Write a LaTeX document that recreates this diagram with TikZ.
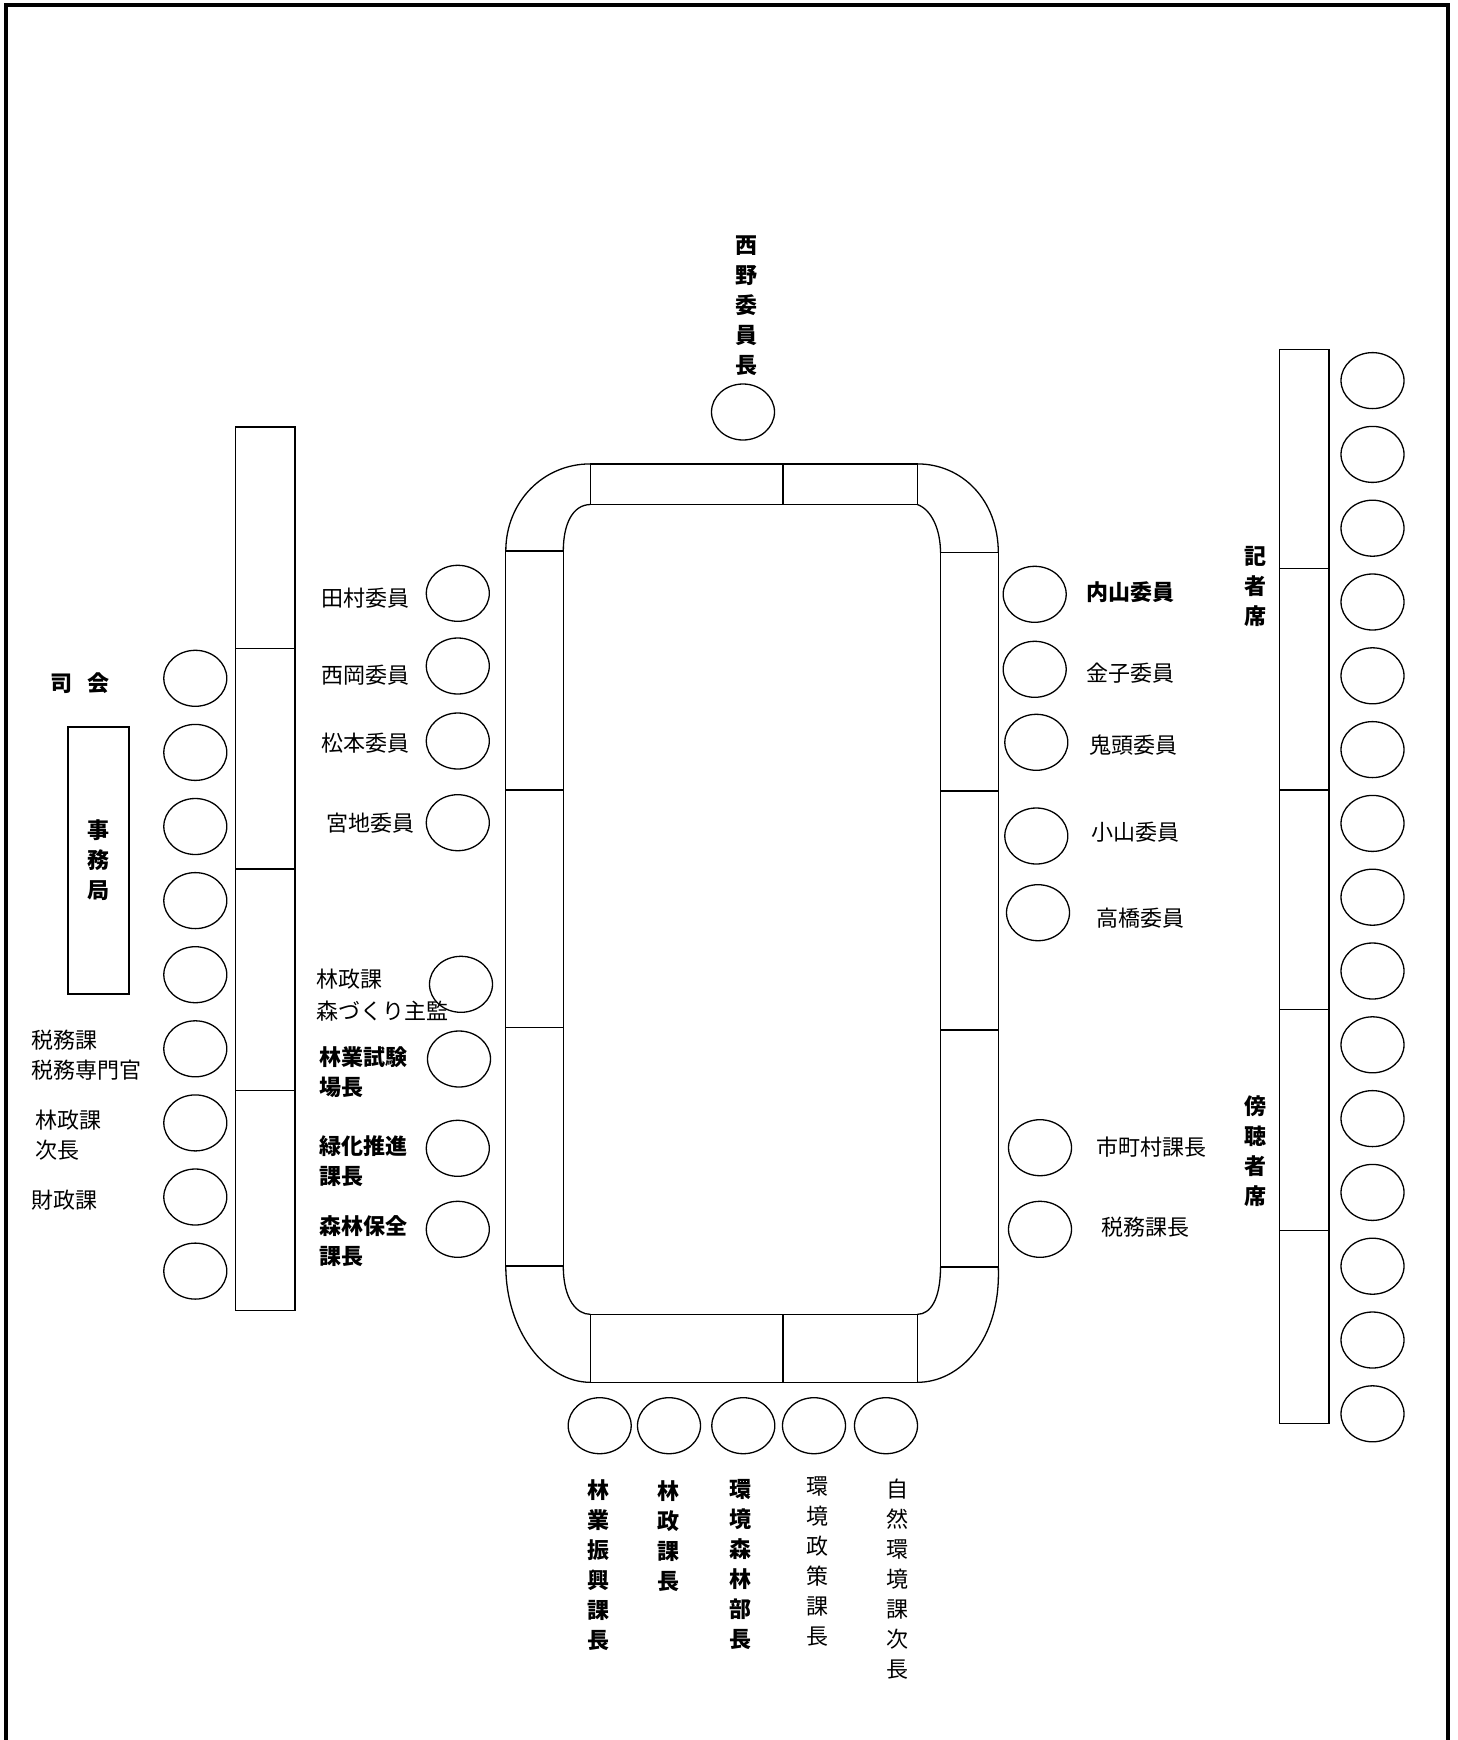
\documentclass[tikz,border=0pt]{standalone}
\usepackage{fontspec}
\setmainfont{Noto Sans CJK JP}
\usetikzlibrary{shapes.geometric}
\tikzset{
  seat/.style  = {ellipse, draw, line width=1.3pt, minimum width=63pt,
                  minimum height=56pt, inner sep=0pt},
  tbl/.style   = {draw, line width=1.3pt},
  lbl/.style   = {inner sep=0pt, anchor=west, align=left,
                  font=\fontsize{22}{30}\selectfont},
  blbl/.style  = {lbl, font=\fontsize{22}{30}\selectfont\bfseries},
  vlbl/.style  = {inner sep=0pt, align=center,
                  font=\fontsize{22}{30}\selectfont\bfseries},
  vrlbl/.style = {vlbl, font=\fontsize{22}{30}\selectfont},
}
\begin{document}
\begin{tikzpicture}[x=1pt, y=-1pt]
  \useasboundingbox (0,0) rectangle (1457,1740);
  \draw[line width=4pt] (6,1740) -- (6,5) -- (1448,5) -- (1448,1740);

  % table
  \draw[tbl] (590.2,463.9) rectangle (917.4,504.5);
  \draw[tbl] (783.1,463.9) -- (783.1,504.5);
  \draw[tbl] (590.2,1314.3) rectangle (917.4,1382.3);
  \draw[tbl] (783.1,1314.3) -- (783.1,1382.3);
  \draw[tbl] (505.8,551) rectangle (563.3,1266);
  \draw[tbl] (940.5,552.7) rectangle (998.3,1267);
  \foreach \y in {790,1027.6} \draw[tbl] (505.8,\y) -- (563.3,\y);
  \foreach \y in {791,1030} \draw[tbl] (940.5,\y) -- (998.3,\y);
  \draw[tbl] (505.8,551) .. controls (505.8,502) and (543,463.9) .. (590.2,463.9);
  \draw[tbl] (563.3,551) .. controls (563.3,525) and (572,505) .. (590.2,504.5);
  \draw[tbl] (917.4,463.9) .. controls (962,463.9) and (998.3,500) .. (998.3,552.7);
  \draw[tbl] (917.4,504.5) .. controls (932,510) and (940.5,530) .. (940.5,552.7);
  \draw[tbl] (505.8,1266) .. controls (505.8,1330) and (545,1382.3) .. (590.2,1382.3);
  \draw[tbl] (563.3,1266) .. controls (563.3,1300) and (577,1314.3) .. (590.2,1314.3);
  \draw[tbl] (998.3,1267) .. controls (1001,1340) and (960,1382.3) .. (917.4,1382.3);
  \draw[tbl] (940.5,1267) .. controls (940.5,1300) and (930,1314.3) .. (917.4,1314.3);

  % benches
  \draw[tbl] (235.3,427) rectangle (295,1310.6);
  \foreach \y in {648.3,869,1090.8} \draw[tbl] (235.3,\y) -- (295,\y);
  \draw[tbl] (1279.3,349.3) rectangle (1329,1423.8);
  \foreach \y in {568.3,790,1009.8,1230.6} \draw[tbl] (1279.3,\y) -- (1329,\y);
  \draw[line width=2pt] (68.3,726.7) rectangle (129.3,994.3);

  % seats
  \node[seat] (chair) at (743,412) {};
  \foreach \i in {1,...,9}
    \node[seat] (s\i) at (195.3,{678.3+74.1*(\i-1)}) {};
  \foreach \i in {1,...,15}
    \node[seat] (g\i) at (1372.5,{380.6+73.8*(\i-1)}) {};
  \foreach \i/\x/\y in {1/457.8/593.3, 2/457.8/666, 3/457.8/741, 4/457.8/822.7,
                        5/461/984.3, 6/459/1059, 7/457.8/1148.3, 8/457.8/1229.3}
    \node[seat] (l\i) at (\x,\y) {};
  \foreach \i/\x/\y in {1/1034.7/594.3, 2/1034.7/669.3, 3/1036.3/742.3,
                        4/1036.3/836, 5/1038/912.7, 6/1040/1147.7, 7/1040/1229.3}
    \node[seat] (r\i) at (\x,\y) {};
  \foreach \i/\x in {1/599.7, 2/669, 3/743.3, 4/814, 5/886}
    \node[seat] (b\i) at (\x,1425.7) {};

  % labels
  \node[vlbl] (nishino) at (746.7,305.4) {西\\野\\委\\員\\長};
  \node[blbl] (shikai) at (49.8,683.3) {司\hspace{16pt}会};
  \node[vlbl] (jimu) at (98.3,860) {事\\務\\局};
  \node[lbl] (zeimu1) at (31.7,1055) {税務課\\税務専門官};
  \node[lbl] (rinsei1) at (35,1135) {林政課\\次長};
  \node[lbl] (zaisei) at (31.7,1200) {財政課};

  \node[lbl] (tamura) at (321,598.3) {田村委員};
  \node[lbl] (nishioka) at (321,675) {西岡委員};
  \node[lbl] (matsumoto) at (321,742.7) {松本委員};
  \node[lbl] (miyaji) at (326.7,823.3) {宮地委員};
  \node[lbl, align=left, font=\fontsize{22}{32}\selectfont] (mori) at (316.7,994.7)
    {林政課\\森づくり主監};
  \node[blbl] (shiken) at (319.3,1072) {林業試験\\場長};
  \node[blbl] (ryokka) at (319.3,1161) {緑化推進\\課長};
  \node[blbl] (hozen) at (319.3,1241.3) {森林保全\\課長};

  \node[blbl] (uchiyama) at (1086.7,591.7) {内山委員};
  \node[lbl] (kaneko) at (1086.7,673.3) {金子委員};
  \node[lbl] (kito) at (1089.3,745) {鬼頭委員};
  \node[lbl] (koyama) at (1091,831.7) {小山委員};
  \node[lbl] (takahashi) at (1096,918.3) {高橋委員};
  \node[lbl] (shichoson) at (1096.7,1146.7) {市町村課長};
  \node[lbl] (zeimu2) at (1101,1226.7) {税務課長};
  \node[vlbl] (kisha) at (1255,586) {記\\者\\席};
  \node[vlbl] (bocho) at (1255.7,1151) {傍\\聴\\者\\席};

  \node[vlbl] (shinko) at (598.3,1565.5) {林\\業\\振\\興\\課\\長};
  \node[vlbl] (rinsei2) at (668.3,1535.8) {林\\政\\課\\長};
  \node[vlbl] (bucho) at (740,1564.7) {環\\境\\森\\林\\部\\長};
  \node[vrlbl] (seisaku) at (817.7,1562) {環\\境\\政\\策\\課\\長};
  \node[vrlbl] (shizen) at (897.7,1579) {自\\然\\環\\境\\課\\次\\長};
\end{tikzpicture}
\end{document}
